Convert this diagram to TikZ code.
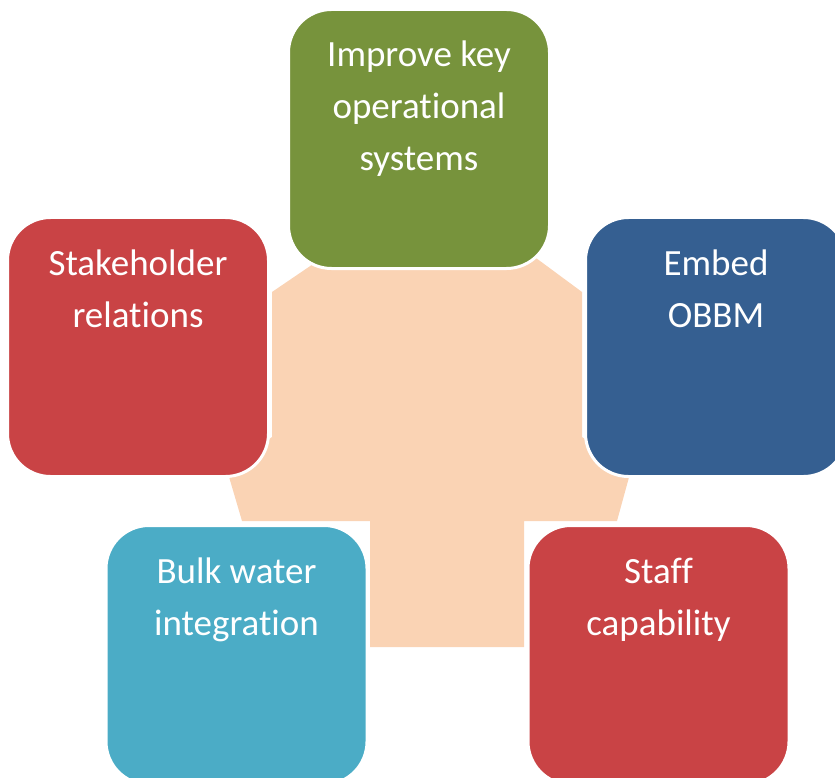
\documentclass[tikz,border=0pt]{standalone}
\usepackage{fontspec}
\setmainfont[Ligatures={NoCommon}]{Carlito}
\usetikzlibrary{calc}
\definecolor{peach}{HTML}{FAD3B4}
\definecolor{boxgreen}{HTML}{77933C}
\definecolor{boxred}{HTML}{C94345}
\definecolor{boxblue}{HTML}{355F91}
\definecolor{boxaqua}{HTML}{4BACC6}
\begin{document}
\begin{tikzpicture}[x=1pt,y=-1pt,
  box/.style={draw=white,line width=3pt,rounded corners=43pt,minimum width=261pt,minimum height=259pt,inner sep=0pt},
  lbl/.style={text=white,align=center,anchor=base,inner sep=0pt,font=\fontsize{37}{52}\selectfont}]
\useasboundingbox (0,0) rectangle (835,778);
\clip (0,0) rectangle (835,778);
\fill[peach] (322,258) -- (536,258) -- (582,292) -- (582,437) -- (631,470) -- (617,521)
  -- (524,521) -- (524,647) -- (370,647) -- (370,521) -- (242,521) -- (227,470)
  -- (272,437) -- (272,292) -- cycle;
\node[box,fill=boxgreen] (g) at (419,139) {};
\node[box,fill=boxred] (r) at (138,347) {};
\node[box,fill=boxblue] (b) at (716,347) {};
\node[box,fill=boxaqua] (w) at (236.5,655) {};
\node[box,fill=boxred] (s) at (658.5,655) {};
% anchor=base is the baseline of the last line
\node[lbl] (gt) at ($(g.center)+(0,32)$) {Improve key\\operational\\systems};
\node[lbl] (rt) at ($(r.center)+(0,-20)$) {Stakeholder\\relations};
\node[lbl] (bt) at ($(b.center)+(0,-20)$) {Embed\\OBBM};
\node[lbl] (wt) at ($(w.center)+(0,-20)$) {Bulk water\\integration};
\node[lbl] (st) at ($(s.center)+(0,-20)$) {Staff\\capability};
\end{tikzpicture}
\end{document}
